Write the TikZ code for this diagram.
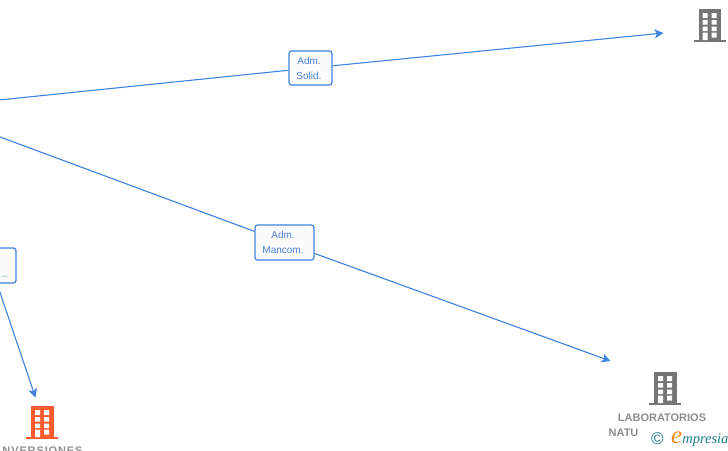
\documentclass[tikz,border=0pt]{standalone}
\usepackage{fontspec}
\setmainfont{Liberation Sans}
\newfontfamily\logofont{Liberation Serif}
\usetikzlibrary{arrows.meta}
\definecolor{linkblue}{HTML}{3F83E0}
\definecolor{labelblue}{HTML}{4A7FD6}
\definecolor{iconGrey}{HTML}{757575}
\definecolor{iconOrange}{HTML}{FF5B2E}
\definecolor{nameGrey}{HTML}{8F8F8F}
\definecolor{logoTeal}{HTML}{1F7F8F}
\definecolor{logoOrange}{HTML}{F08A1D}
\definecolor{boxfill}{HTML}{FBFBFB}
\tikzset{
  link/.style={draw=linkblue,line width=1.1pt},
  linkarrow/.style={link,-{Stealth[length=9pt,width=9pt,inset=2.5pt]}},
  linkbox/.style={draw=linkblue,line width=1.2pt,rounded corners=2.5pt,fill=boxfill,
    text=labelblue,font=\fontsize{10}{15}\selectfont,align=center,inner sep=0pt},
  nametext/.style={text=nameGrey,font=\bfseries\fontsize{11}{13}\selectfont,inner sep=0pt},
}
% building icon: #1 left of body, #2 top of body, #3 colour
\newcommand{\bldicon}[3]{%
  \begin{scope}[shift={(#1,#2)}]
    \fill[#3] (0,0) rectangle (22.5,31);
    \fill[#3] (-5,31) rectangle (27,33);
    \fill[white] (4,4) rectangle (9,9) (13,4) rectangle (18,9)
                 (4,11) rectangle (9,15.5) (13,11) rectangle (18,15.5)
                 (4,17.5) rectangle (9,22) (13,17.5) rectangle (18,22)
                 (4,23.5) rectangle (9,31) (13,23.5) rectangle (18,28.5);
  \end{scope}}
\begin{document}
\begin{tikzpicture}[x=1pt,y=-1pt]
\useasboundingbox (0,0) rectangle (728,450);
\clip (0,0) rectangle (728,450);
\fill[white] (0,0) rectangle (728,450);

\coordinate (startA) at (-1,100);
\coordinate (startB) at (-1,136.6);
\coordinate (endA) at (663.5,33);
\coordinate (endB) at (610.5,361);
\coordinate (endC) at (35.5,397.5);

\node[linkbox,minimum width=43pt,minimum height=34pt] (solid) at (310.5,68) {Adm.\hspace*{3pt}\\Solid.\hspace*{3pt}};
\node[linkbox,minimum width=59pt,minimum height=35pt] (mancom) at (284.5,242.5) {Adm.\hspace*{3pt}\\Mancom.\hspace*{3pt}};
\node[linkbox,minimum width=36pt,minimum height=35pt] (third) at (-2,265.5) {};
\node[text=labelblue,font=\fontsize{10}{10}\selectfont,inner sep=0pt,anchor=base east] (thirdtext) at (7.5,277) {..};

\draw[link] (startA) -- (solid);
\draw[linkarrow] (solid) -- (endA);
\draw[link] (startB) -- (mancom);
\draw[linkarrow] (mancom) -- (endB);
\path (third.south) ++(-1,0) coordinate (thirdfoot);
\draw[linkarrow] (thirdfoot) -- (endC);

\bldicon{698.5}{9}{iconGrey}
\bldicon{654}{372}{iconGrey}
\bldicon{31}{406}{iconOrange}

\node[nametext,anchor=base] (name1) at (662,421) {LABORATORIOS};
\fill[white] (600,421.5) rectangle (728,424);
\node[nametext,anchor=base west] (name2) at (608.5,436) {NATU};
\node[nametext,anchor=base,font=\bfseries\fontsize{11}{13}\selectfont\addfontfeature{LetterSpace=8}] (name3) at (42.5,454) {NVERSIONES};

\fill[white] (647,426) rectangle (728,450);
\node[text=logoTeal,font=\fontsize{17}{17}\selectfont,inner sep=0pt] (copy) at (657.5,438.5) {©};
\node[anchor=base west,inner sep=0pt,font=\logofont\itshape\fontsize{14.5}{14}\selectfont,text=logoTeal] (logo) at (671,443)
  {{\color{logoOrange}\fontsize{25}{25}\selectfont e}mpresia};
\end{tikzpicture}
\end{document}
